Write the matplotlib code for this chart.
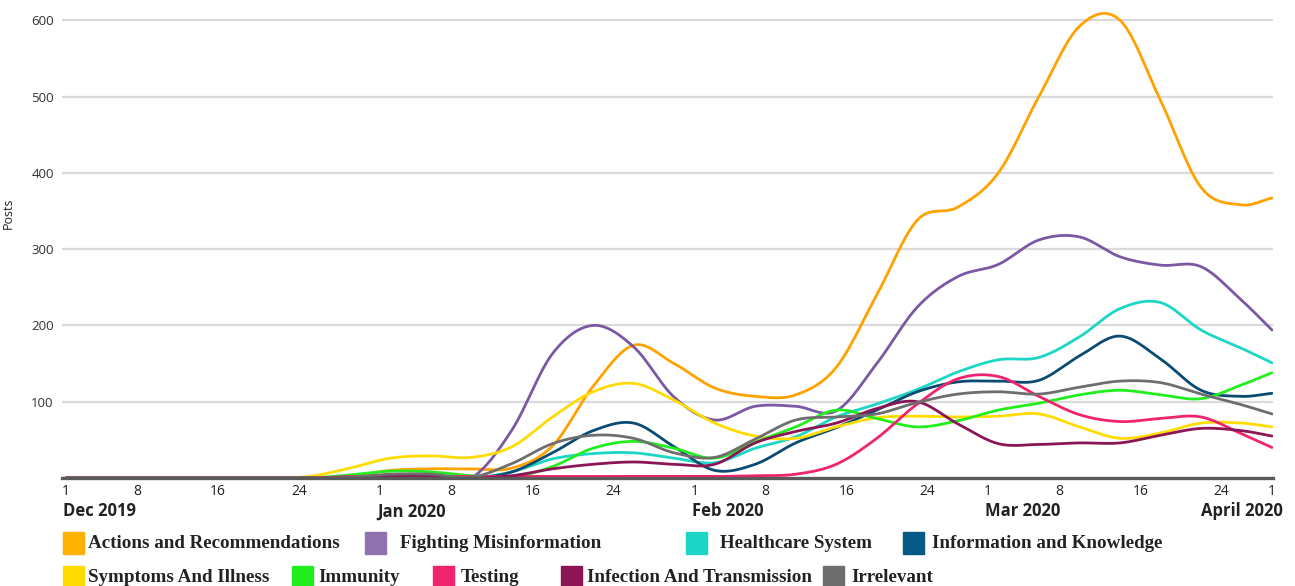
import numpy as np
import matplotlib.pyplot as plt
from matplotlib.patches import Rectangle

# days since 1 Dec 2019 (readings every 4 days, last point = end of data)
days = [0, 4, 8, 12, 16, 20, 24, 28, 32, 36, 40, 44, 48, 52, 56, 60, 64, 68, 72, 76,
        80, 84, 88, 92, 96, 100, 104, 108, 112, 116, 119]

actions = [0, 0, 0, 0, 0, 0, 0, 2, 10, 12, 12, 13, 42, 120, 174, 150, 118, 107, 109, 145,
           240, 338, 355, 400, 500, 592, 600, 495, 381, 358, 367]
fighting = [0, 0, 0, 0, 0, 0, 0, 0, 3, 0, 0, 63, 163, 200, 172, 106, 76, 94, 94, 88,
            150, 224, 264, 280, 312, 316, 290, 279, 277, 233, 194]
healthcare = [0, 0, 0, 0, 0, 0, 0, 0, 3, 0, 0, 8, 25, 32, 33, 26, 20, 39, 54, 80,
              97, 116, 139, 155, 158, 185, 222, 230, 194, 170, 151]
information = [0, 0, 0, 0, 0, 0, 0, 0, 3, 2, 0, 8, 33, 62, 72, 41, 10, 18, 46, 66,
               89, 113, 126, 127, 128, 160, 186, 156, 115, 107, 111]
symptoms = [0, 0, 0, 0, 0, 0, 2, 13, 26, 29, 27, 41, 80, 113, 124, 102, 72, 55, 52, 67,
            79, 81, 80, 81, 84, 67, 52, 59, 72, 72, 67]
immunity = [0, 0, 0, 0, 0, 0, 0, 4, 9, 8, 3, 1, 15, 39, 48, 39, 26, 47, 67, 89,
            78, 67, 75, 89, 98, 109, 115, 109, 104, 122, 138]
testing = [0, 0, 0, 0, 0, 0, 0, 2, 2, 2, 2, 2, 2, 2, 2, 2, 2, 3, 5, 18,
           52, 97, 130, 133, 107, 83, 74, 78, 80, 58, 40]
infection = [0, 0, 0, 0, 0, 0, 0, 0, 2, 2, 0, 3, 12, 18, 21, 18, 18, 46, 61, 72,
             91, 100, 71, 45, 44, 46, 46, 56, 65, 62, 55]
irrelevant = [0, 0, 0, 0, 0, 0, 0, 1, 5, 5, 1, 19, 45, 56, 52, 33, 27, 51, 76, 80,
              84, 99, 110, 113, 110, 119, 127, 125, 110, 96, 84]

series = [
    ("Actions and Recommendations", actions, "#FFA200"),
    ("Fighting Misinformation", fighting, "#7A58A4"),
    ("Healthcare System", healthcare, "#1CD6C6"),
    ("Information and Knowledge", information, "#0B4A73"),
    ("Symptoms And Illness", symptoms, "#FFDC00"),
    ("Immunity", immunity, "#22EE1E"),
    ("Testing", testing, "#F0246E"),
    ("Infection And Transmission", infection, "#8C1655"),
    ("Irrelevant", irrelevant, "#6E6E6E"),
]
legend_colors = {"Actions and Recommendations": "#FFB000", "Fighting Misinformation": "#8E71AE",
                 "Information and Knowledge": "#045A84"}

tick_days = [0, 7, 15, 23, 31, 38, 46, 54, 62, 69, 77, 85, 91, 98, 106, 114, 119]
tick_labels = ["1", "8", "16", "24"] * 4 + ["1"]
months = ["Dec 2019", "Jan 2020", "Feb 2020", "Mar 2020"]
month_days = [0, 31, 62, 91]


def spline(x, y, n=24):
    # cubic hermite through the readings, just to draw a smooth line
    x = np.asarray(x, float)
    y = np.asarray(y, float)
    m = np.zeros_like(y)
    m[1:-1] = (y[2:] - y[:-2]) / (x[2:] - x[:-2])
    m[0] = (y[1] - y[0]) / (x[1] - x[0])
    m[-1] = (y[-1] - y[-2]) / (x[-1] - x[-2])
    xs, ys = [], []
    for i in range(len(x) - 1):
        h = x[i + 1] - x[i]
        t = np.linspace(0, 1, n, endpoint=False)
        h00 = 2 * t**3 - 3 * t**2 + 1
        h10 = t**3 - 2 * t**2 + t
        h01 = -2 * t**3 + 3 * t**2
        h11 = t**3 - t**2
        xs.append(x[i] + t * h)
        ys.append(h00 * y[i] + h10 * h * m[i] + h01 * y[i + 1] + h11 * h * m[i + 1])
    xs.append([x[-1]])
    ys.append([y[-1]])
    return np.concatenate(xs), np.maximum(np.concatenate(ys), 0)


plt.rcParams['font.family'] = ['Open Sans', 'DejaVu Sans']

fig = plt.figure(figsize=(12.95, 5.86), dpi=100)
ax = fig.add_axes([0.0479, 0.1843, 0.9351, 0.8072])

for name, vals, col in series:
    sx, sy = spline(days, vals)
    ax.plot(sx, sy, color=col, lw=2, solid_capstyle='round', zorder=3)

ax.set_xlim(-0.4, 119.1)
ax.set_ylim(0, 620)
ax.set_yticks([100, 200, 300, 400, 500, 600])
ax.grid(axis='y', color='#DADADA', lw=1.6)
ax.set_axisbelow(True)
for s in ['top', 'right', 'left']:
    ax.spines[s].set_visible(False)
ax.spines['bottom'].set_color('#5A5A5A')
ax.spines['bottom'].set_linewidth(2.4)
ax.spines['bottom'].set_zorder(5)
ax.set_xticks(tick_days)
ax.set_xticklabels(tick_labels)
ax.tick_params(axis='x', length=0, pad=4, labelsize=10, colors='#222222')
ax.tick_params(axis='y', length=0, pad=6, labelsize=9.5, colors='#333333')
ax.set_ylabel("Posts", fontsize=9, color='#222222')
ax.yaxis.set_label_coords(-0.039, 0.56)

for lab, d in zip(months, month_days):
    ax.annotate(lab, xy=(d, 0), xycoords=('data', 'axes fraction'), xytext=(-2, -24),
                textcoords='offset points', ha='left', va='center', fontsize=12,
                fontweight='bold', color='#222222')
ax.annotate("April 2020", xy=(119, 0), xycoords=('data', 'axes fraction'), xytext=(8, -24),
            textcoords='offset points', ha='right', va='center', fontsize=12,
            fontweight='bold', color='#222222')

# legend drawn by hand in two rows, like the original
W, H = 1295, 586
rows = [
    [(63, 88, 0), (365, 400, 1), (686, 720, 2), (903, 932, 3)],
    [(63, 88, 4), (292, 318, 5), (433, 461, 6), (561, 587, 7), (823, 851, 8)],
]
row_y = [543, 577]
for row, yc in zip(rows, row_y):
    for sqx, tx, idx in row:
        name, _, col = series[idx]
        col = legend_colors.get(name, col)
        fig.patches.append(Rectangle((sqx / W, 1 - (yc + 11) / H), 21 / W, 22 / H,
                                     transform=fig.transFigure, color=col, zorder=5))
        fig.text(tx / W, 1 - yc / H, name, ha='left', va='center', fontsize=13.7,
                 fontweight='bold', family='Liberation Serif', color='#222222')

fig.savefig("out.png", dpi=100)
